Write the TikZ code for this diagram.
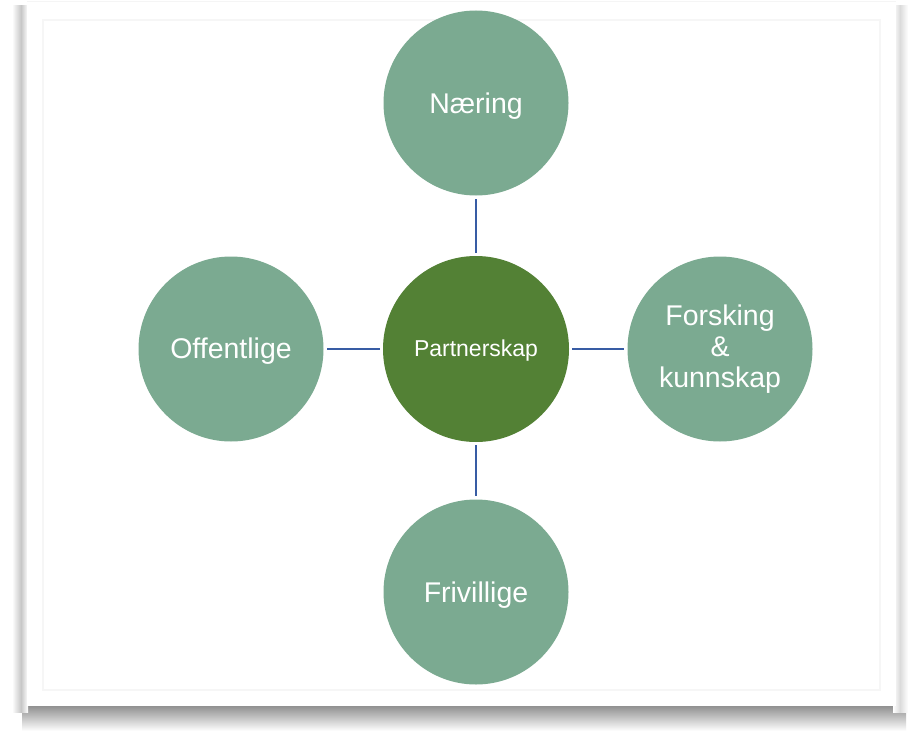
\documentclass[tikz,border=0pt]{standalone}
\usepackage{fontspec}
\setmainfont{Liberation Sans}
\definecolor{lightgreen}{RGB}{123,170,145}
\definecolor{darkgreen}{RGB}{83,129,53}
\definecolor{linkblue}{RGB}{56,92,164}
\tikzset{
  outer/.style={circle, fill=lightgreen, minimum size=185pt, inner sep=0pt, text=white, align=center, font=\fontsize{28.5}{31}\selectfont},
  hub/.style={circle, fill=darkgreen, minimum size=186pt, inner sep=0pt, text=white, font=\fontsize{23}{26}\selectfont},
  link/.style={draw=linkblue, line width=2.8pt, shorten <=3pt, shorten >=3pt}
}
\begin{document}
\begin{tikzpicture}[x=1pt,y=-1pt]
\useasboundingbox (0,0) rectangle (918,733);
\fill[white] (0,0) rectangle (918,733);
% shadows of the frame
\shade[top color=black!45, bottom color=white] (22,705) rectangle (906,731);
\shade[left color=white, right color=black!22] (12,6) rectangle (21,712);
\shade[left color=black!22, right color=white] (21,6) rectangle (28,712);
\shade[left color=white, right color=black!14] (893,6) rectangle (900,712);
\shade[left color=black!14, right color=white] (900,6) rectangle (908,712);
% frame
\fill[white] (27,2) rectangle (896,706);
\draw[black!4, line width=1pt] (27,2) -- (896,2);
\draw[black!3.5, line width=1.2pt] (43,20) rectangle (880,690);
% nodes
\node[hub] (p) at (476,349) {\raisebox{-7pt}[0pt][0pt]{Partnerskap}};
\node[outer] (n) at (476,103) {\raisebox{-10.2pt}[0pt][0pt]{Næring}};
\node[outer] (f) at (476,592) {\raisebox{-10.2pt}[0pt][0pt]{Frivillige}};
\node[outer] (o) at (231,349) {\raisebox{-9.5pt}[0pt][0pt]{Offentlige}};
\node[outer] (k) at (720,349) {Forsking\\\&\\kunnskap};
% connectors
\draw[link] (p) -- (n);
\draw[link] (p) -- (f);
\draw[link] (p) -- (o);
\draw[link] (p) -- (k);
\end{tikzpicture}
\end{document}
